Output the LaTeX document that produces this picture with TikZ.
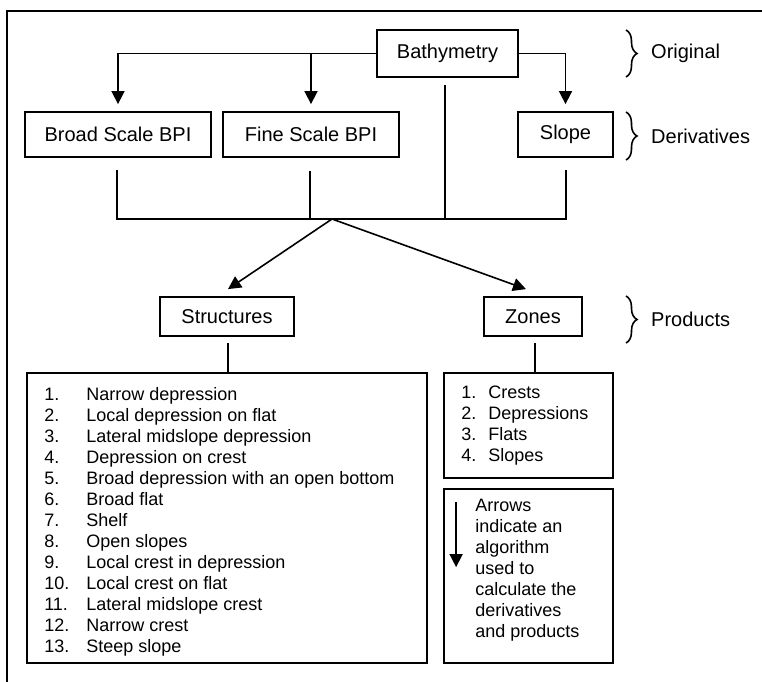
\documentclass[tikz,border=0pt]{standalone}
\usepackage{fontspec}
\setmainfont{Liberation Sans}
\usetikzlibrary{arrows.meta,calc,decorations.pathreplacing}
\begin{document}
\begin{tikzpicture}[x=1pt,y=-1pt,
  box/.style={draw, line width=1.8pt, inner sep=0pt, font=\fontsize{20}{24}\selectfont},
  conn/.style={line width=1.6pt},
  arr/.style={conn, -{Triangle[width=13pt,length=13pt]}},
  brc/.style={decorate, decoration={brace, amplitude=11pt}, line width=1.6pt},
  lbl/.style={anchor=west, font=\fontsize{20}{24}\selectfont, inner sep=0pt},
  listtxt/.style={anchor=north west, inner sep=0pt, align=left, font=\fontsize{18}{21}\selectfont}]
\useasboundingbox (0,0) rectangle (762,681);
\clip (0,0) rectangle (762,681);
% outer frame (cropped at right and bottom)
\draw[line width=2pt] (7,700) -- (7,11) -- (780,11);

% boxes
\node[box, minimum width=141pt, minimum height=47pt] (bathy) at (447.5,53.5) {Bathymetry};
\node[box, minimum width=186pt, minimum height=45pt] (broad) at (118,134.5) {Broad Scale BPI};
\node[box, minimum width=176pt, minimum height=45pt] (fine) at (311,134.5) {Fine Scale BPI};
\node[box, minimum width=95pt, minimum height=45pt] (slope) at (565.5,134.5) {Slope};
\node[box, minimum width=134pt, minimum height=39pt] (structures) at (227,316.5) {Structures};
\node[box, minimum width=98pt, minimum height=39pt] (zones) at (533,316.5) {Zones};
\node[box, minimum width=400pt, minimum height=290pt] (slist) at (227,518) {};
\node[box, minimum width=169pt, minimum height=105pt] (zlist) at (528.5,425.5) {};
\node[box, minimum width=169pt, minimum height=174pt] (legend) at (528.5,576) {};

% list texts
\node[listtxt] (slisttext) at ($(slist.north west)+(18,13.3)$) {%
\begin{tabular}{@{}p{42pt}@{}l@{}}
1. & Narrow depression\\
2. & Local depression on flat\\
3. & Lateral midslope depression\\
4. & Depression on crest\\
5. & Broad depression with an open bottom\\
6. & Broad flat\\
7. & Shelf\\
8. & Open slopes\\
9. & Local crest in depression\\
10. & Local crest on flat\\
11. & Lateral midslope crest\\
12. & Narrow crest\\
13. & Steep slope
\end{tabular}};
\node[listtxt] (zlisttext) at ($(zlist.north west)+(18,11)$) {%
\begin{tabular}{@{}p{27pt}@{}l@{}}
1. & Crests\\
2. & Depressions\\
3. & Flats\\
4. & Slopes
\end{tabular}};
\node[listtxt] (legendtext) at ($(legend.north west)+(32,11)$) {Arrows\\indicate an\\algorithm\\used to\\calculate the\\derivatives\\and products};
\coordinate (la1) at ($(legend.north west)+(13,14)$);
\coordinate (la2) at ($(legend.north west)+(13,79)$);
\draw[arr] (la1) -- (la2);

% from bathymetry to derivatives
\draw[arr, shorten >=7pt] (bathy.west) -| (broad.north);
\draw[arr, shorten >=7pt] (fine.north |- bathy.west) -- (fine.north);
\draw[arr, shorten >=7pt] (bathy.east) -| (slope.north);

% collecting bus
\coordinate (bus) at (332,219);
\draw[conn] ($(broad.south)+(-1,12)$) -- ($(broad.south |- bus)+(-1,0)$) -- ($(slope.south |- bus)+(0.5,0)$) -- ($(slope.south)+(0.5,12)$);
\draw[conn] ($(fine.south)+(-1,13)$) -- ($(fine.south |- bus)+(-1,0)$);
\draw[conn] ($(bathy.south)+(-2.5,7)$) -- ($(bathy.south |- bus)+(-2.5,0)$);

% to products
\draw[arr] (bus) -- ($(structures.north)+(1,-7)$);
\draw[arr] (bus) -- ($(zones.north)+(-7,-7)$);

% products to lists
\draw[conn] ($(structures.south)+(1,6)$) -- ($(structures.south |- slist.north)+(1,0)$);
\draw[conn] ($(zones.south)+(2,6)$) -- ($(zones.south |- zlist.north)+(2,0)$);

% braces and labels
\draw[brc] (626,30) -- (626,77);
\node[lbl] (orig) at (651,53.5) {Original};
\draw[brc] (626,112) -- (626,160);
\node[lbl] (deriv) at (651,136) {Derivatives};
\draw[brc] (626,296) -- (626,343);
\node[lbl] (prod) at (651,319.5) {Products};
\end{tikzpicture}
\end{document}
